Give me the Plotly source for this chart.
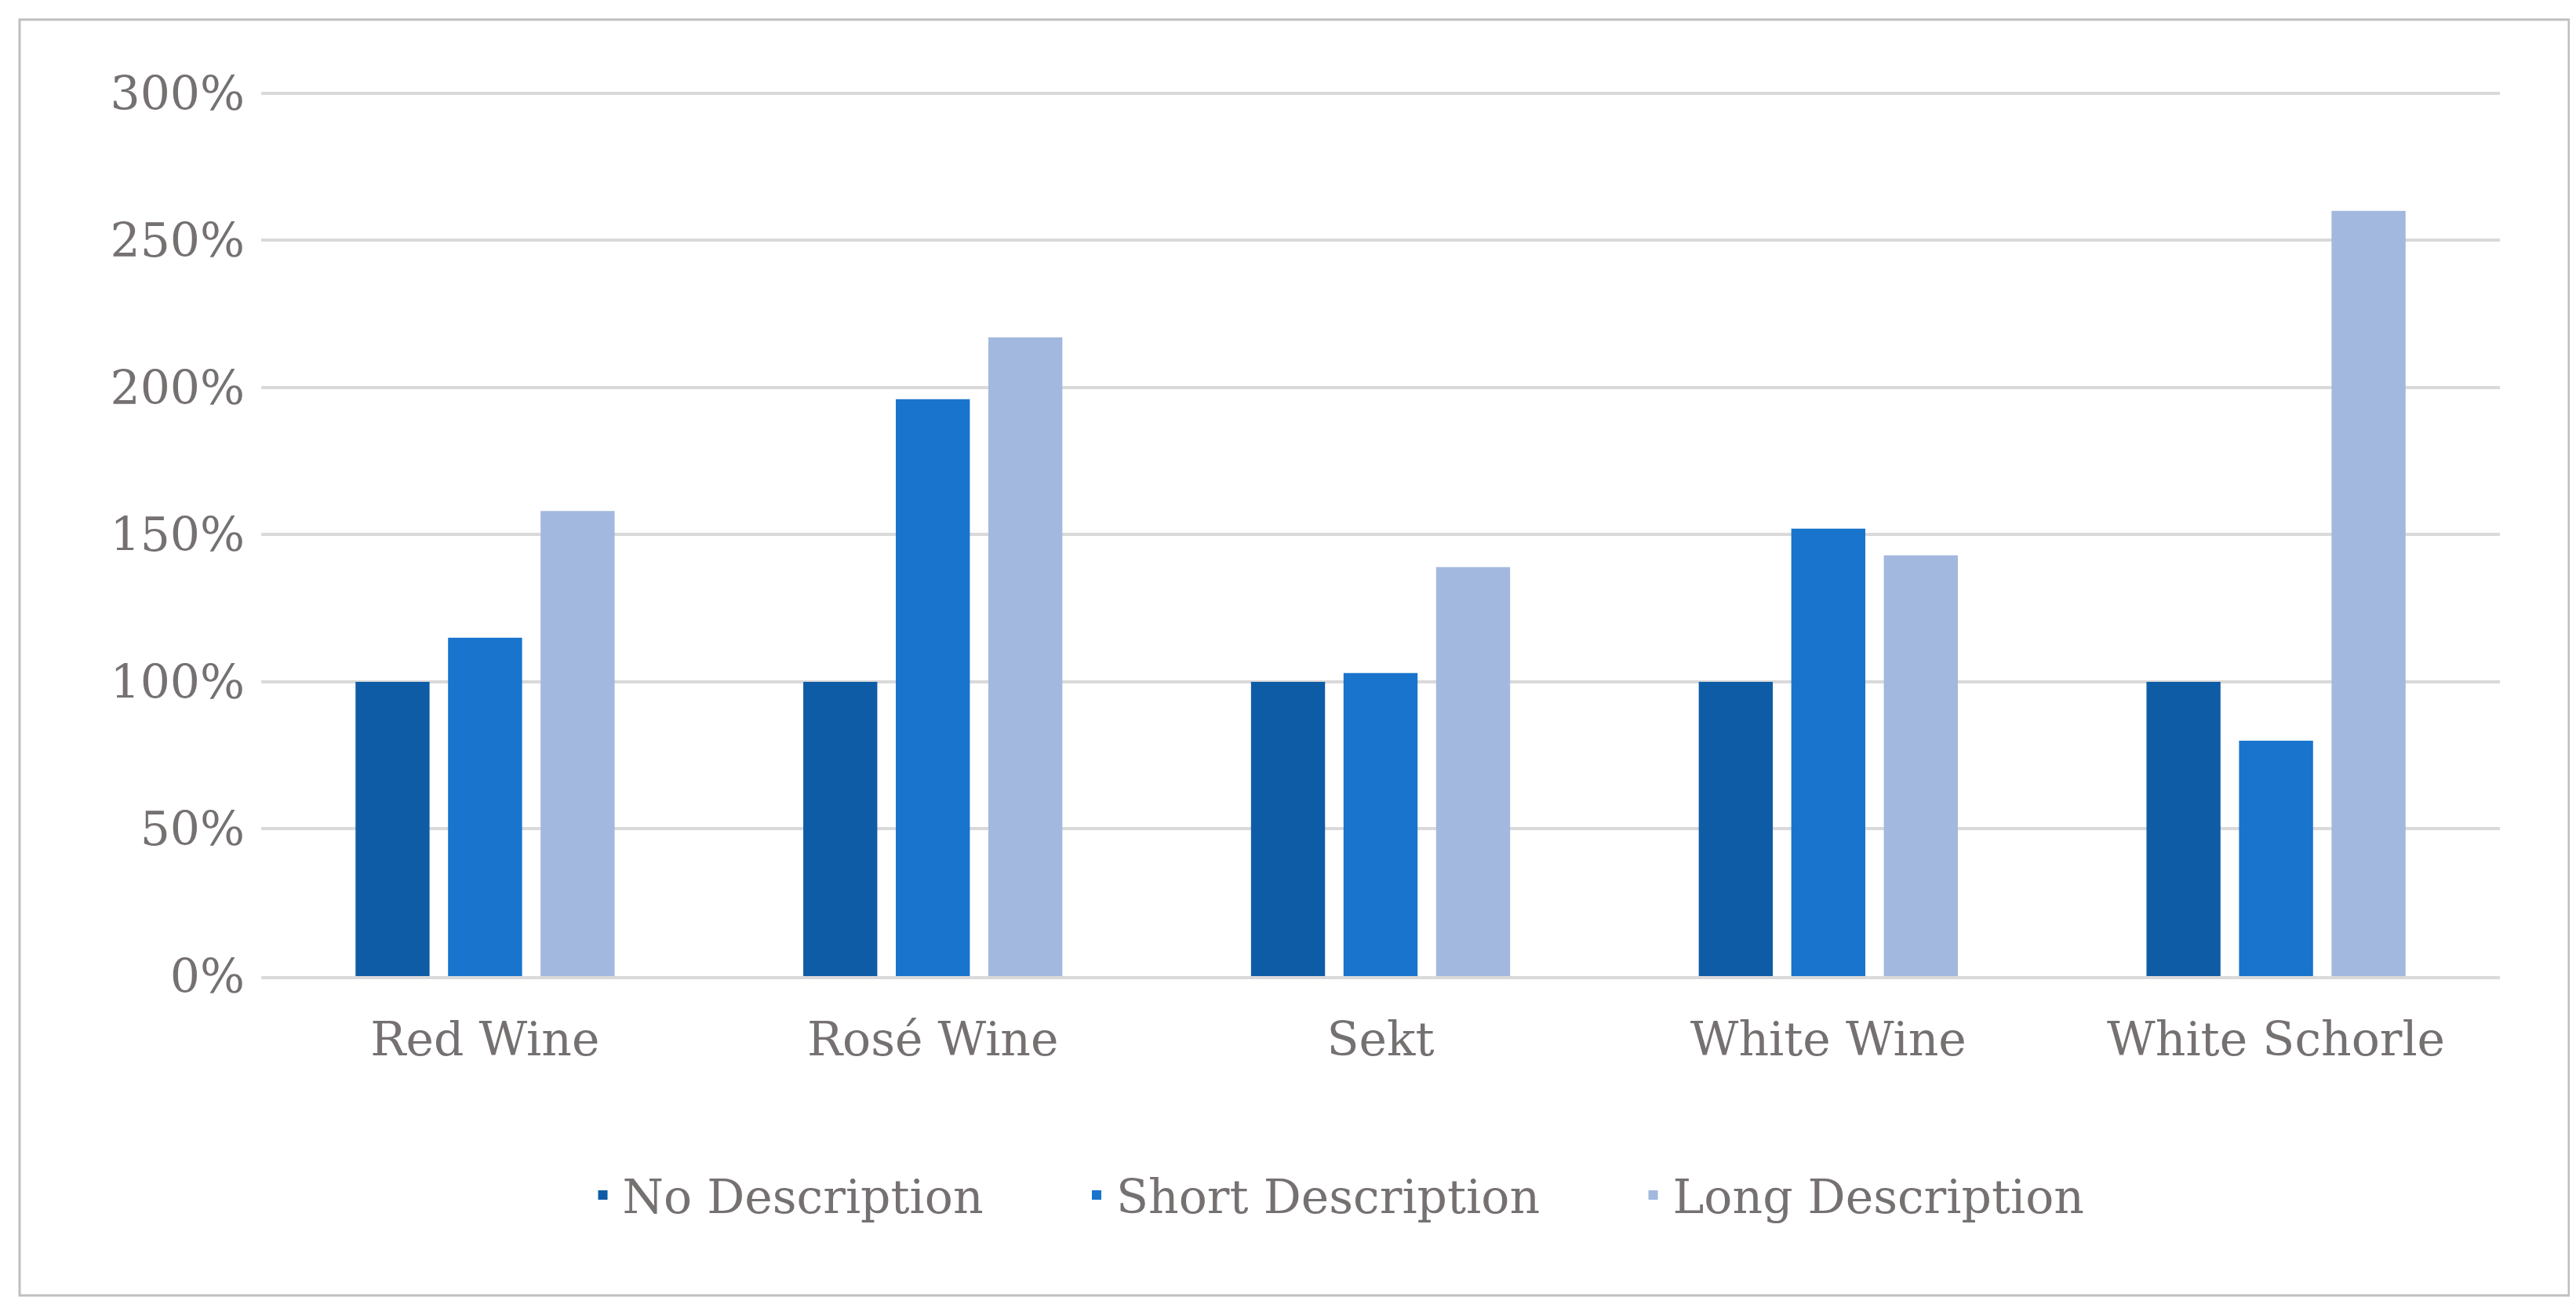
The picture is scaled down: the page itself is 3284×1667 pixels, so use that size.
import plotly.graph_objects as go

categories = ["Red Wine", "Rosé Wine", "Sekt", "White Wine", "White Schorle"]
no_desc = [100, 100, 100, 100, 100]
short_desc = [115, 196, 103, 152, 80]
long_desc = [158, 217, 139, 143, 260]
tick_vals = [0, 50, 100, 150, 200, 250, 300]
tick_text = ["0%", "50%", "100%", "150%", "200%", "250%", "300%"]

font = dict(family="DejaVu Serif, Liberation Serif, serif", size=60, color="#767171")

fig = go.Figure()
for name, vals, col in [("No Description", no_desc, "#0F5CA6"),
                        ("Short Description", short_desc, "#1874CD"),
                        ("Long Description", long_desc, "#A3B8DE")]:
    fig.add_trace(go.Bar(name=name + "      ", x=categories, y=vals, marker_color=col, marker_line_width=0))

W, H = 3284, 1667
l, r, t, b = 325, 105, 107, 431
pw, ph = W - l - r, H - t - b
fig.update_layout(
    width=W, height=H, margin=dict(l=l, r=r, t=t, b=b),
    paper_bgcolor="white", plot_bgcolor="white",
    barmode="group", bargap=0.38, bargroupgap=0.2,
    font=font,
    legend=dict(orientation="h", x=0.5, xanchor="center", y=(1236-1515)/ph,
                yanchor="middle", font=font, itemwidth=40, traceorder="normal"),
    xaxis=dict(showline=True, linecolor="#D9D9D9", linewidth=4, ticks="", tickfont=font, ticklabelstandoff=25),
    yaxis=dict(range=[0, 301], tickvals=tick_vals, ticktext=tick_text, showgrid=True,
               gridcolor="#D9D9D9", gridwidth=4, zeroline=False, tickfont=font, ticklabelstandoff=20),
    shapes=[dict(type="rect", xref="paper", yref="paper",
                 x0=(17-l)/pw, x1=(3267-l)/pw, y0=(1236-1643)/ph, y1=(1236-17)/ph,
                 line=dict(color="#BFBFBF", width=3), fillcolor="rgba(0,0,0,0)", layer="below")],
)
fig.write_html("out.html")
